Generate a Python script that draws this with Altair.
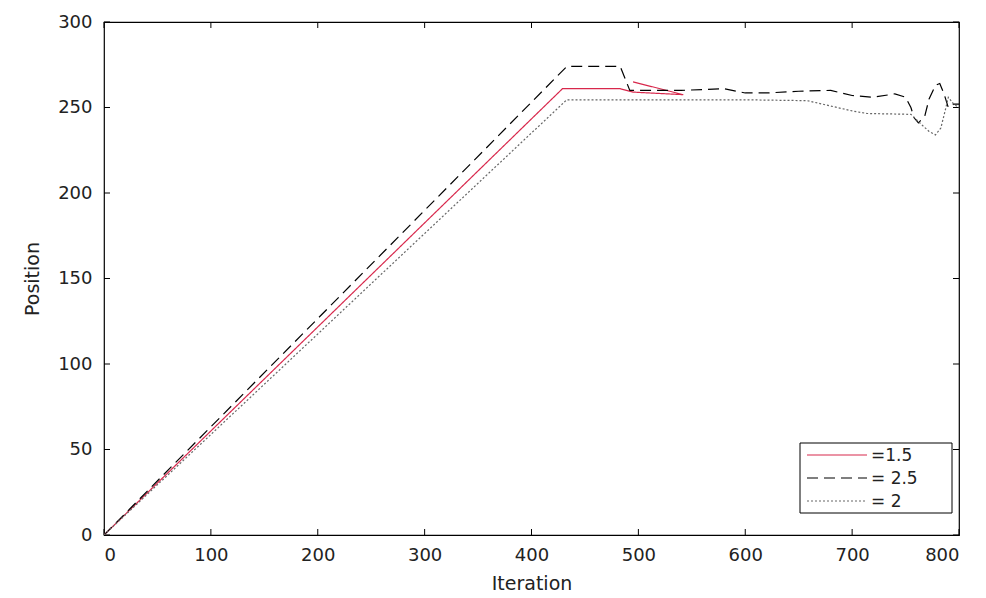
import altair as alt
import pandas as pd

# ---- data ----
series_names = ["=1.5", "= 2.5", "= 2"]

red_x = [0, 429, 483, 495, 542, 495]
red_y = [0, 261, 261, 259, 257.5, 265]

dash_x = [0, 433, 483, 492, 540, 580, 600, 620, 650, 680, 700, 720, 740, 750, 755, 758, 762, 768, 772, 778, 782, 786, 790, 795, 800]
dash_y = [0, 274, 274, 260, 260, 261, 258.5, 258.5, 259.5, 260, 257, 256, 258, 256, 250, 244, 241, 245, 255, 263, 264, 258, 250, 252, 252]

dot_x = [0, 433, 500, 600, 658, 700, 714, 755, 765, 772, 778, 783, 787, 790, 795, 800]
dot_y = [0, 254.5, 254.5, 254.5, 254, 248, 246.5, 246, 240, 236, 234, 238, 248, 256, 252, 250]

x_ticks = [0, 100, 200, 300, 400, 500, 600, 700, 800]
y_ticks = [0, 50, 100, 150, 200, 250, 300]

colors = ["#d8284c", "#000000", "#666666"]
dashes = [[1, 0], [11, 6], [2, 2]]

W, H = 855, 513
FONT = "DejaVu Sans"

rows = []
for name, xs, ys in zip(series_names, [red_x, dash_x, dot_x], [red_y, dash_y, dot_y]):
    for i, (a, b) in enumerate(zip(xs, ys)):
        rows.append({"x": a, "y": b, "s": name, "i": i})
df = pd.DataFrame(rows)

xs_scale = alt.Scale(domain=[0, 800], nice=False, zero=False)
ys_scale = alt.Scale(domain=[0, 300], nice=False, zero=False)

lines = alt.Chart(df).mark_line(strokeWidth=1.2, clip=True).encode(
    x=alt.X("x:Q", scale=xs_scale,
            axis=alt.Axis(values=x_ticks, title="Iteration", grid=False, domain=False,
                          tickSize=0, labelPadding=11, labelFontSize=18,
                          titleFontSize=19, titleFontWeight="normal",
                          titleY=54, titleBaseline="alphabetic",
                          labelColor="#222", titleColor="#222")),
    y=alt.Y("y:Q", scale=ys_scale,
            axis=alt.Axis(values=y_ticks, title="Position", grid=False, domain=False,
                          tickSize=0, labelPadding=12, labelFontSize=18,
                          titleFontSize=19, titleFontWeight="normal",
                          titleX=-66, titleBaseline="alphabetic",
                          labelColor="#222", titleColor="#222")),
    color=alt.Color("s:N", scale=alt.Scale(domain=series_names, range=colors), legend=None),
    strokeDash=alt.StrokeDash("s:N", scale=alt.Scale(domain=series_names, range=dashes), legend=None),
    order="i:Q",
    detail="s:N",
)

xt = pd.DataFrame({"t": x_ticks})
yt = pd.DataFrame({"t": y_ticks})
tick_bottom = alt.Chart(xt).mark_rule(color="black", strokeWidth=1).encode(
    x=alt.X("t:Q", scale=xs_scale), y=alt.value(H), y2=alt.value(H - 6))
tick_top = alt.Chart(xt).mark_rule(color="black", strokeWidth=1).encode(
    x=alt.X("t:Q", scale=xs_scale), y=alt.value(0), y2=alt.value(6))
tick_left = alt.Chart(yt).mark_rule(color="black", strokeWidth=1).encode(
    y=alt.Y("t:Q", scale=ys_scale), x=alt.value(0), x2=alt.value(6))
tick_right = alt.Chart(yt).mark_rule(color="black", strokeWidth=1).encode(
    y=alt.Y("t:Q", scale=ys_scale), x=alt.value(W), x2=alt.value(W - 6))

# ---- legend box (bottom-right, inside the plot) ----
LX0, LX1, LY0, LY1 = 696, 848, 421, 491
row_y = [433, 456, 479]
one = pd.DataFrame({"k": [0]})
legend_layers = [
    alt.Chart(one).mark_rect(fill="white", stroke="black", strokeWidth=1).encode(
        x=alt.value(LX0), x2=alt.value(LX1), y=alt.value(LY0), y2=alt.value(LY1)),
]
for name, col, dsh, ry in zip(series_names, colors, dashes, row_y):
    legend_layers.append(
        alt.Chart(one).mark_rule(color=col, strokeDash=dsh, strokeWidth=1.2).encode(
            x=alt.value(LX0 + 7), x2=alt.value(LX0 + 67), y=alt.value(ry)))
    legend_layers.append(
        alt.Chart(one).mark_text(text=name, align="left", baseline="middle",
                                 fontSize=17, color="#222", font=FONT).encode(
            x=alt.value(LX0 + 71), y=alt.value(ry + 1)))

chart = alt.layer(tick_bottom, tick_top, tick_left, tick_right, lines, *legend_layers).properties(
    width=W, height=H,
    autosize=alt.AutoSizeParams(type="none"),
    padding={"left": 96, "top": 14, "right": 19, "bottom": 61},
).configure(
    font=FONT,
    background="white",
).configure_view(
    stroke="black", strokeWidth=1.2
)

chart.save("out.html", embed_options={"renderer": "svg", "actions": False})
